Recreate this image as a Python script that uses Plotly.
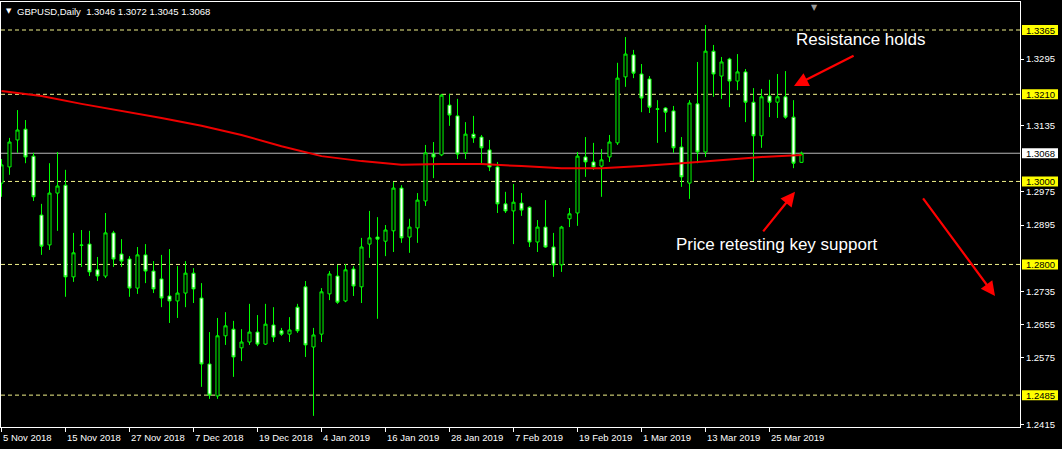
import plotly.graph_objects as go

# ---------------- data ----------------
bar_index = list(range(101))  # daily bars, 5 Nov 2018 .. 29 Mar 2019

opens = [1.2996, 1.3035, 1.3100, 1.3126, 1.3061, 1.2919, 1.2847, 1.2972, 1.2991, 1.2770,
         1.2847, 1.2849, 1.2787, 1.2772, 1.2876, 1.2825, 1.2813, 1.2743, 1.2823, 1.2784,
         1.2765, 1.2724, 1.2712, 1.2731, 1.2779, 1.2719, 1.2560, 1.2483, 1.2628, 1.2644,
         1.2599, 1.2613, 1.2637, 1.2608, 1.2654, 1.2640, 1.2632, 1.2697, 1.2746, 1.2601,
         1.2632, 1.2729, 1.2772, 1.2712, 1.2789, 1.2746, 1.2849, 1.2866, 1.2856, 1.2881,
         1.2984, 1.2866, 1.2888, 1.2953, 1.3066, 1.3064, 1.3184, 1.3158, 1.3069, 1.3114,
         1.3107, 1.3076, 1.3035, 1.2946, 1.2929, 1.2948, 1.2938, 1.2854, 1.2890, 1.2842,
         1.2799, 1.2910, 1.2924, 1.3059, 1.3047, 1.3037, 1.3059, 1.3093, 1.3252, 1.3305,
         1.3259, 1.3247, 1.3175, 1.3177, 1.3170, 1.3083, 1.2996, 1.3187, 1.3071, 1.3314,
         1.3254, 1.3295, 1.3242, 1.3264, 1.3191, 1.3110, 1.3206, 1.3191, 1.3204, 1.3155,
         1.3046]
highs = [1.3054, 1.3105, 1.3172, 1.3148, 1.3069, 1.2946, 1.3044, 1.3071, 1.3028, 1.2876,
         1.2883, 1.2881, 1.2818, 1.2924, 1.2881, 1.2861, 1.2820, 1.2842, 1.2849, 1.2808,
         1.2823, 1.2837, 1.2796, 1.2808, 1.2791, 1.2755, 1.2637, 1.2671, 1.2685, 1.2664,
         1.2644, 1.2705, 1.2678, 1.2705, 1.2697, 1.2647, 1.2673, 1.2705, 1.2760, 1.2647,
         1.2743, 1.2784, 1.2799, 1.2801, 1.2796, 1.2864, 1.2929, 1.2914, 1.2895, 1.2999,
         1.2991, 1.2910, 1.2972, 1.3088, 1.3095, 1.3211, 1.3211, 1.3199, 1.3143, 1.3158,
         1.3112, 1.3100, 1.3047, 1.2975, 1.2994, 1.2972, 1.2940, 1.2907, 1.2955, 1.2876,
         1.2893, 1.2936, 1.3071, 1.3107, 1.3093, 1.3078, 1.3112, 1.3286, 1.3348, 1.3317,
         1.3283, 1.3254, 1.3196, 1.3179, 1.3182, 1.3107, 1.3196, 1.3288, 1.3377, 1.3329,
         1.3300, 1.3298, 1.3307, 1.3271, 1.3225, 1.3223, 1.3245, 1.3259, 1.3266, 1.3196,
         1.3072]
lows = [1.2963, 1.3016, 1.3069, 1.3044, 1.2953, 1.2823, 1.2835, 1.2881, 1.2722, 1.2758,
        1.2794, 1.2772, 1.2760, 1.2767, 1.2794, 1.2794, 1.2722, 1.2729, 1.2755, 1.2731,
        1.2697, 1.2659, 1.2671, 1.2697, 1.2707, 1.2505, 1.2476, 1.2476, 1.2606, 1.2529,
        1.2567, 1.2606, 1.2603, 1.2606, 1.2613, 1.2628, 1.2613, 1.2635, 1.2577, 1.2435,
        1.2613, 1.2714, 1.2705, 1.2709, 1.2724, 1.2707, 1.2816, 1.2669, 1.2820, 1.2830,
        1.2852, 1.2828, 1.2852, 1.2941, 1.3008, 1.3061, 1.3134, 1.3054, 1.3054, 1.3093,
        1.3040, 1.3025, 1.2924, 1.2924, 1.2849, 1.2917, 1.2842, 1.2830, 1.2840, 1.2770,
        1.2782, 1.2890, 1.2893, 1.3011, 1.3028, 1.2963, 1.3047, 1.3088, 1.3228, 1.3249,
        1.3167, 1.3165, 1.3093, 1.3119, 1.3069, 1.2987, 1.2958, 1.3044, 1.3059, 1.3204,
        1.3199, 1.3179, 1.3220, 1.3143, 1.3001, 1.3081, 1.3155, 1.3153, 1.3151, 1.3032,
        1.3045]
closes = [1.3040, 1.3095, 1.3124, 1.3059, 1.2963, 1.2844, 1.2972, 1.2989, 1.2770, 1.2828,
          1.2846, 1.2782, 1.2772, 1.2876, 1.2813, 1.2808, 1.2743, 1.2823, 1.2784, 1.2741,
          1.2719, 1.2712, 1.2731, 1.2779, 1.2741, 1.2560, 1.2485, 1.2628, 1.2652, 1.2577,
          1.2613, 1.2637, 1.2608, 1.2656, 1.2625, 1.2632, 1.2642, 1.2640, 1.2606, 1.2630,
          1.2734, 1.2777, 1.2709, 1.2787, 1.2748, 1.2842, 1.2864, 1.2861, 1.2883, 1.2984,
          1.2864, 1.2890, 1.2955, 1.3069, 1.3059, 1.3208, 1.3160, 1.3066, 1.3114, 1.3105,
          1.3081, 1.3035, 1.2946, 1.2929, 1.2950, 1.2931, 1.2854, 1.2890, 1.2842, 1.2799,
          1.2890, 1.2922, 1.3061, 1.3047, 1.3035, 1.3052, 1.3095, 1.3249, 1.3307, 1.3261,
          1.3201, 1.3179, 1.3174, 1.3167, 1.3081, 1.3011, 1.3189, 1.3071, 1.3314, 1.3259,
          1.3288, 1.3242, 1.3264, 1.3191, 1.3110, 1.3204, 1.3191, 1.3204, 1.3155, 1.3044,
          1.3068]

# moving average (red line), read at every 5th bar
ma_index = [0, 5, 10, 15, 20, 25, 30, 35, 40, 45, 50, 55, 60, 65, 70, 75, 80, 85, 90, 95, 100]
ma_values = [1.3218, 1.3206, 1.3187, 1.3170, 1.3153, 1.3134, 1.3112, 1.3085, 1.3061, 1.3049,
             1.3040, 1.3042, 1.3042, 1.3037, 1.3032, 1.3032, 1.3037, 1.3044, 1.3052, 1.3059,
             1.3064]

# x-axis date labels (every 8 bars)
date_tick_index = [0, 8, 16, 24, 32, 40, 48, 56, 64, 72, 80, 88, 96]
date_tick_labels = ["5 Nov 2018", "15 Nov 2018", "27 Nov 2018", "7 Dec 2018", "19 Dec 2018",
                    "4 Jan 2019", "16 Jan 2019", "28 Jan 2019", "7 Feb 2019", "19 Feb 2019",
                    "1 Mar 2019", "13 Mar 2019", "25 Mar 2019"]

# y-axis price scale ticks (those hidden behind the level labels are omitted)
price_ticks = [1.2415, 1.2575, 1.2655, 1.2735, 1.2895, 1.2975,
               1.3135, 1.3295]

# horizontal support / resistance levels
levels = [1.3365, 1.3210, 1.3000, 1.2800, 1.2485]
last_price = 1.3068
header_text = "GBPUSD,Daily  1.3046 1.3072 1.3045 1.3068"

# ---------------- figure ----------------
FONT = "Liberation Sans, Arial, sans-serif"
LIME = "#00ff00"

fig = go.Figure()
fig.add_trace(go.Candlestick(
    x=bar_index, open=opens, high=highs, low=lows, close=closes,
    increasing=dict(line=dict(color=LIME, width=1), fillcolor="black"),
    decreasing=dict(line=dict(color=LIME, width=1), fillcolor="white"),
    whiskerwidth=0, hoverinfo="skip", showlegend=False,
))
fig.add_trace(go.Scatter(
    x=ma_index, y=ma_values, mode="lines",
    line=dict(color="#ee0000", width=2), hoverinfo="skip", showlegend=False,
))

shapes = []
for lv in levels:
    shapes.append(dict(type="line", xref="paper", x0=0, x1=1, yref="y", y0=lv, y1=lv,
                       line=dict(color="#f2f28a", width=1, dash="4px,3px"), layer="below"))
    shapes.append(dict(type="rect", xref="paper", xsizemode="pixel", xanchor=1, x0=2, x1=38,
                       yref="y", ysizemode="pixel", yanchor=lv, y0=-5, y1=5,
                       fillcolor="#ffff00", line=dict(width=0), layer="above"))
shapes.append(dict(type="line", xref="paper", x0=0, x1=1, yref="y", y0=last_price, y1=last_price,
                   line=dict(color="#b8b8b8", width=1), layer="below"))
shapes.append(dict(type="rect", xref="paper", xsizemode="pixel", xanchor=1, x0=2, x1=38,
                   yref="y", ysizemode="pixel", yanchor=last_price, y0=-5, y1=5,
                   fillcolor="white", line=dict(width=0), layer="above"))

annotations = []
for lv in levels + [last_price]:
    annotations.append(dict(xref="paper", x=1, xanchor="left", xshift=4, yref="y", y=lv,
                            yanchor="middle", text=f"{lv:.4f}", showarrow=False,
                            font=dict(family=FONT, size=9.5, color="black")))
for ti, tl in zip(date_tick_index, date_tick_labels):
    annotations.append(dict(xref="x", x=ti, xanchor="left", xshift=-1, yref="paper", y=0,
                            yanchor="middle", yshift=-10, text=tl, showarrow=False,
                            font=dict(family=FONT, size=9.5, color="white")))
# header
annotations.append(dict(xref="paper", x=0.0025, xanchor="left", yref="paper", y=1, yanchor="top",
                        yshift=-3, text="▼", showarrow=False,
                        font=dict(family="DejaVu Sans", size=7, color="white")))
annotations.append(dict(xref="paper", x=0.0135, xanchor="left", yref="paper", y=1, yanchor="top",
                        yshift=-2, text=header_text, showarrow=False,
                        font=dict(family=FONT, size=9.5, color="white")))
# chart-shift marker
annotations.append(dict(xref="paper", x=0.798, xanchor="center", yref="paper", y=1, yanchor="top",
                        yshift=1, text="▼", showarrow=False,
                        font=dict(family="DejaVu Sans", size=8, color="#9a9a9a")))
# text notes
annotations.append(dict(xref="x", x=107.4, yref="y", y=1.3343, text="Resistance holds",
                        showarrow=False, font=dict(family=FONT, size=17, color="white")))
annotations.append(dict(xref="x", x=96.9, yref="y", y=1.2849, text="Price retesting key support",
                        showarrow=False, font=dict(family=FONT, size=17, color="white")))
# red arrows
for hx, hy, tx, ty in [(99.06, 1.3230, 106.7, 1.3305),
                       (99.19, 1.2975, 95.06, 1.2876),
                       (124.19, 1.2724, 115.06, 1.2963)]:
    annotations.append(dict(xref="x", yref="y", x=hx, y=hy, axref="x", ayref="y", ax=tx, ay=ty,
                            text="", showarrow=True, arrowhead=2, arrowsize=1.3, arrowwidth=2.2,
                            arrowcolor="#ff0000", standoff=0))

fig.update_layout(
    width=1062, height=449,
    margin=dict(l=1, r=42, t=2, b=22),
    paper_bgcolor="black", plot_bgcolor="black",
    boxgap=0.45,
    shapes=shapes, annotations=annotations,
    showlegend=False,
    xaxis=dict(range=[-0.0625, 127.3125], rangeslider=dict(visible=False),
               showgrid=False, zeroline=False, showline=True, mirror=True,
               linecolor="white", linewidth=1,
               tickmode="array", tickvals=date_tick_index, showticklabels=False,
               ticks="outside", ticklen=4, tickcolor="white"),
    yaxis=dict(range=[1.24082, 1.34325], side="right",
               showgrid=False, zeroline=False, showline=True, mirror=True,
               linecolor="white", linewidth=1,
               tickmode="array", tickvals=price_ticks, tickformat=".4f",
               ticks="outside", ticklen=3, tickcolor="white",
               tickfont=dict(family=FONT, size=9.5, color="white")),
)

fig.write_html(
    "out.html",
    config={"displayModeBar": False},
    post_script="document.body.style.margin='0';document.body.style.padding='0';"
                "document.body.style.background='black';document.body.style.overflow='hidden';",
)
